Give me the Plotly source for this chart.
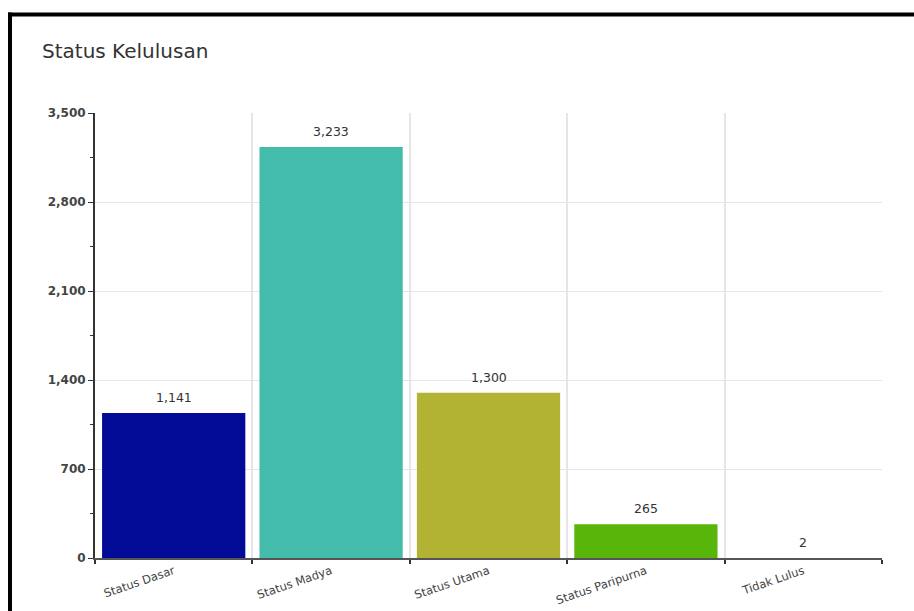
import plotly.graph_objects as go

categories = ["Status Dasar", "Status Madya", "Status Utama", "Status Paripurna", "Tidak Lulus"]
values = [1141, 3233, 1300, 265, 2]
bar_colors = ["#010b95", "#43bcab", "#b2b332", "#58b60a", "rgba(0,0,0,0)"]
y_tickvals = [0, 700, 1400, 2100, 2800, 3500]
y_ticktext = ["0", "700", "1,400", "2,100", "2,800", "3,500"]

W, H = 914, 611
ML, MR, MT, MB = 95, 32, 113, 53
pw, ph = W - ML - MR, H - MT - MB
FONT = "DejaVu Sans, Verdana, Arial"

fig = go.Figure(go.Bar(
    x=categories, y=values,
    marker=dict(color=bar_colors, line=dict(width=0)),
    width=0.91,
    hoverinfo="x+y",
))

for c, v in zip(categories, values):
    fig.add_annotation(x=c, y=v, text=f"{v:,}", showarrow=False,
                       yanchor="bottom", yshift=6,
                       font=dict(family=FONT, size=12.5, color="#333333"))

def px_x(p):
    return (p - ML) / pw

def px_y(p):
    return (H - MB - p) / ph

fig.update_layout(
    width=W, height=H,
    margin=dict(l=ML, r=MR, t=MT, b=MB),
    paper_bgcolor="white", plot_bgcolor="white",
    showlegend=False,
    title=dict(text="Status Kelulusan", x=42 / W, xanchor="left", xref="container",
               y=1 - 51 / H, yanchor="middle", yref="container",
               font=dict(family=FONT, size=20, color="#333333")),
    xaxis=dict(
        type="category", tickson="boundaries", range=[-0.5, 4.5],
        automargin=False,
        showgrid=True, gridcolor="#e6e6e6", gridwidth=2,
        showline=True, linecolor="#555555", linewidth=2,
        ticks="outside", ticklen=4, tickcolor="#333333", tickwidth=2,
        tickangle=-19, ticklabelstandoff=0,
        tickfont=dict(family=FONT, size=11.5, color="#444444"),
    ),
    yaxis=dict(
        range=[0, 3500], tickvals=y_tickvals, ticktext=y_ticktext,
        automargin=False,
        showgrid=True, gridcolor="#e6e6e6", gridwidth=1,
        showline=True, linecolor="#333333", linewidth=2,
        ticks="outside", ticklen=5, tickcolor="#333333", tickwidth=1,
        minor=dict(dtick=350, tick0=0, ticks="outside", ticklen=3, tickcolor="#333333", showgrid=False),
        tickfont=dict(family=FONT, size=12, color="#444444", weight="bold"),
        zeroline=False,
    ),
    shapes=[
        dict(type="line", xref="paper", yref="paper", x0=px_x(8), x1=px_x(W + 5),
             y0=px_y(14.5), y1=px_y(14.5), line=dict(color="black", width=4)),
        dict(type="line", xref="paper", yref="paper", x0=px_x(10), x1=px_x(10),
             y0=px_y(12.5), y1=px_y(H + 5), line=dict(color="black", width=4)),
    ],
)

fig.write_html("out.html")
